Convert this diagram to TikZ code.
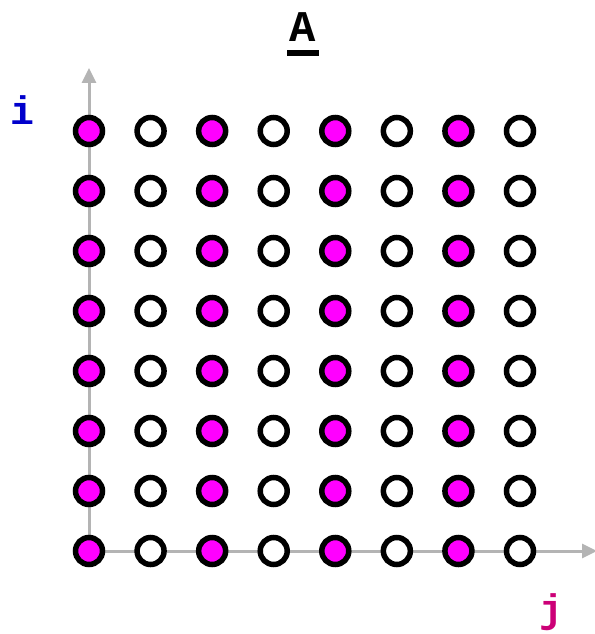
\documentclass[tikz,border=0pt]{standalone}
\usepackage{fontspec}
\setmonofont{Liberation Mono}
\usetikzlibrary{arrows.meta}
\definecolor{dotpink}{RGB}{255,0,255}
\definecolor{axisgray}{RGB}{180,180,180}
\definecolor{iblue}{RGB}{0,0,204}
\definecolor{jpink}{RGB}{204,0,119}
\tikzset{
  dot/.style={circle, draw=black, line width=5.5bp, minimum size=27bp, inner sep=0pt},
  axis/.style={axisgray, line width=3bp, -{Triangle[length=15bp,width=14bp]}},
  lbl/.style={font=\ttfamily\bfseries\fontsize{40}{40}\selectfont, inner sep=0pt}
}
\begin{document}
\begin{tikzpicture}[x=1bp, y=-1bp]
                \useasboundingbox (0,0) rectangle (595,634);
                \coordinate (o) at (89,551);
                \coordinate (itop) at (89,68);
                \coordinate (jend) at (597,551);
                \draw[axis] (o) -- (itop);
                \draw[axis] (o) -- (jend);

                \foreach \r in {0,...,7} {
                        \foreach \c in {0,2,4,6} {
                                \node[dot, fill=dotpink] (c-\r-\c) at (89+\c*61.57,131+\r*60) {};
                            }
                        \foreach \c in {1,3,5,7} {
                                \node[dot, fill=white] (c-\r-\c) at (89+\c*61.57,131+\r*60) {};
                            }
                    }

                \node[lbl, iblue] (ilabel) at (22,110) {i};
                \node[lbl, jpink] (jlabel) at (551,612) {j};
                \node[lbl, font=\ttfamily\bfseries\fontsize{44}{44}\selectfont] (title) at (303,27) {A};
                \draw[line width=6bp] ([xshift=-16bp,yshift=-11bp]title.south) -- ([xshift=16bp,yshift=-11bp]title.south);
            \end{tikzpicture}
\end{document}
